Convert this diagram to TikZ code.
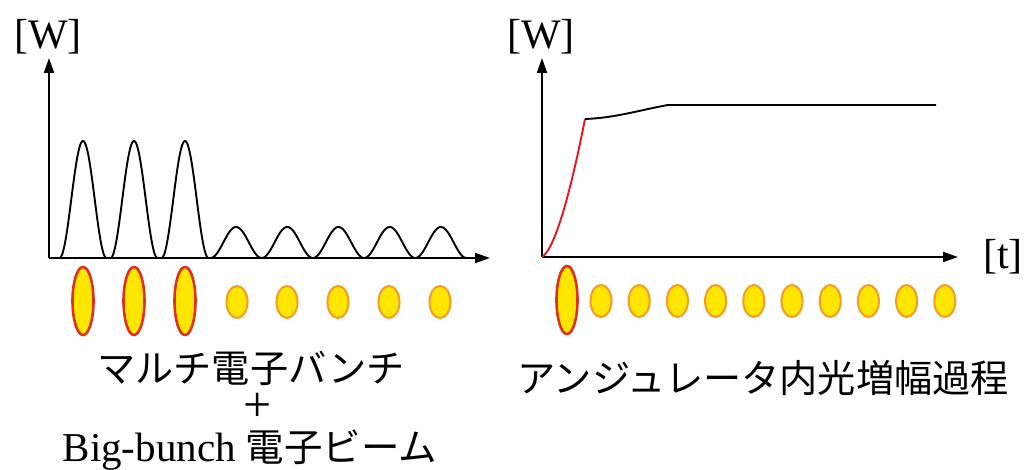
\documentclass[tikz,border=0pt]{standalone}
\usepackage{fontspec}
\setmainfont{Liberation Serif}
\newfontfamily\jpfont{Noto Sans CJK JP}
\usetikzlibrary{arrows.meta}
\definecolor{bunchfill}{HTML}{FFE600}
\definecolor{bigedge}{HTML}{E0301E}
\definecolor{smalledge}{HTML}{F0A028}
\definecolor{risered}{HTML}{E8141E}
\tikzset{
  axis/.style={line width=2pt, -{Triangle[length=15pt,width=10pt]}},
  curve/.style={line width=1.9pt, line join=round},
  bigbunch/.style={fill=bunchfill, draw=bigedge, line width=2.6pt},
  smallbunch/.style={fill=bunchfill, draw=smalledge, line width=2.1pt},
  unitlbl/.style={font=\fontsize{42}{46}\selectfont, inner sep=0pt},
  jplbl/.style={font=\jpfont\fontsize{38.2}{40}\selectfont, inner sep=0pt},
}
\begin{document}
\begin{tikzpicture}[x=1pt,y=-1pt]
\useasboundingbox (0,0) rectangle (1034,470);
% ---------- left plot ----------
\coordinate (LO) at (49,258);
\coordinate (LY) at (49,58);
\coordinate (LX) at (490,258);
\draw[axis] (LO) -- (LY);
\draw[axis] (LO) -- (LX);
\node[unitlbl] (LW) at (48,37) {[W]};
\foreach \c in {83,134,185}
  \draw[curve, domain=-23.5:23.5, samples=80, smooth]
    plot ({\c+\x}, {258 - 58.5*(1+cos(7.66*\x))});
\draw[curve, domain=0:256, samples=240, smooth]
  plot ({210.5+\x}, {258 - 15.5*(1-cos(7.03125*\x))});
% left bunches
\foreach \cx in {83,134,185} \draw[bigbunch] (\cx,301) ellipse [x radius=10.5, y radius=34];
\foreach \cx in {237,287,338,389,440} \draw[smallbunch] (\cx,302) ellipse [x radius=10.5, y radius=16];
\node[jplbl] (T1) at (251,368) {マルチ電子バンチ};
\node[font=\fontsize{50}{50}\selectfont, inner sep=0pt] (Tplus) at (258,407) {+};
\node[inner sep=0pt, anchor=base] (T2) at (250,461) {\fontsize{41}{44}\selectfont Big-bunch {\jpfont\fontsize{38.5}{40}\selectfont 電子ビーム}};
% ---------- right plot ----------
\coordinate (RO) at (542,257);
\coordinate (RY) at (542,58);
\coordinate (RX) at (958,257);
\draw[axis] (RO) -- (RY);
\draw[axis] (RO) -- (RX);
\node[unitlbl] (RW) at (541,37) {[W]};
\node[unitlbl] (RT) at (1003,257) {[t]};
\coordinate (K) at (585,119);
\coordinate (P) at (668,105);
\coordinate (E) at (936,105);
\draw[curve, risered] (RO) .. controls (556,248) and (572,185) .. (K);
\draw[curve] (K) .. controls (615,118) and (640,110) .. (P) -- (E);
% right bunches
\draw[bigbunch] (567,300) ellipse [x radius=10.5, y radius=34];
\foreach \i in {0,...,9} \draw[smallbunch] ({601+38.2*\i},301) ellipse [x radius=10.5, y radius=16];
\node[jplbl] (T3) at (763,378) {アンジュレータ内光増幅過程};
\end{tikzpicture}
\end{document}
